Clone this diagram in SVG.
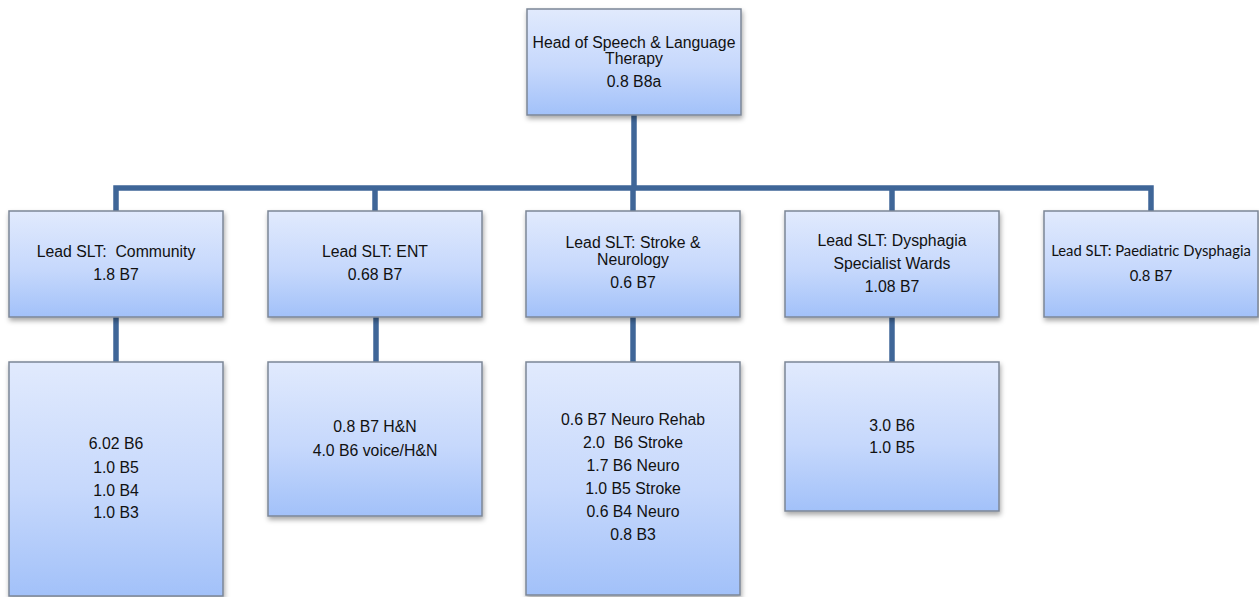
<svg xmlns="http://www.w3.org/2000/svg" width="1259" height="597" viewBox="0 0 1259 597">
  <defs>
    <linearGradient id="boxFill" x1="0" y1="0" x2="0" y2="1">
      <stop offset="0" stop-color="#e1eafd"/>
      <stop offset="0.55" stop-color="#c6d8fc"/>
      <stop offset="1" stop-color="#a2c1f9"/>
    </linearGradient>
    <filter id="shadow" x="-10%" y="-10%" width="120%" height="130%">
      <feDropShadow dx="1" dy="3" stdDeviation="2.5" flood-color="#000" flood-opacity="0.35"/>
    </filter>
  </defs>
  <style>
    .box { fill: url(#boxFill); stroke: #7c8696; stroke-width: 1.5; filter: url(#shadow); }
    .t { font-family: "Liberation Sans", Arial, sans-serif; font-size: 15.8px; fill: #111; text-anchor: middle; }
    .c { font-family: Lato, "Noto Sans", sans-serif; font-size: 14.8px; fill: #111; text-anchor: middle; }
    .conn { fill: none; stroke: #3f6698; stroke-width: 5.5; }
  </style>
  <rect width="1259" height="597" fill="#ffffff"/>

  <g id="connectors">
    <path class="conn" d="M634 115 V188"/>
    <path class="conn" d="M116 211 V188 H1151 V211"/>
    <path class="conn" d="M375 188 V211"/>
    <path class="conn" d="M633 188 V211"/>
    <path class="conn" d="M892 188 V211"/>
    <path class="conn" d="M116 317 V362"/>
    <path class="conn" d="M376 317 V362"/>
    <path class="conn" d="M633 317 V362"/>
    <path class="conn" d="M892 317 V362"/>
  </g>

  <g id="head">
    <rect class="box" x="527" y="9" width="214" height="106"/>
    <text class="t" x="634" y="48">Head of Speech &amp; Language</text>
    <text class="t" x="634" y="64">Therapy</text>
    <text class="t" x="634" y="87">0.8 B8a</text>
  </g>

  <g id="lead-community">
    <rect class="box" x="9" y="211" width="214" height="106"/>
    <text class="t" x="116" y="257" xml:space="preserve">Lead SLT:  Community</text>
    <text class="t" x="116" y="280">1.8 B7</text>
  </g>

  <g id="lead-ent">
    <rect class="box" x="268" y="211" width="214" height="106"/>
    <text class="t" x="375" y="257">Lead SLT: ENT</text>
    <text class="t" x="375" y="280">0.68 B7</text>
  </g>

  <g id="lead-stroke">
    <rect class="box" x="526" y="211" width="214" height="106"/>
    <text class="t" x="633" y="248">Lead SLT: Stroke &amp;</text>
    <text class="t" x="633" y="265">Neurology</text>
    <text class="t" x="633" y="288">0.6 B7</text>
  </g>

  <g id="lead-dysphagia">
    <rect class="box" x="785" y="211" width="214" height="106"/>
    <text class="t" x="892" y="246">Lead SLT: Dysphagia</text>
    <text class="t" x="892" y="269">Specialist Wards</text>
    <text class="t" x="892" y="292">1.08 B7</text>
  </g>

  <g id="lead-paediatric">
    <rect class="box" x="1044" y="211" width="214" height="106"/>
    <text class="c" x="1151" y="256">Lead SLT: Paediatric Dysphagia</text>
    <text class="c" x="1151" y="281">0.8 B7</text>
  </g>

  <g id="team-community">
    <rect class="box" x="9" y="362" width="214" height="234"/>
    <text class="t" x="116" y="449">6.02 B6</text>
    <text class="t" x="116" y="473">1.0 B5</text>
    <text class="t" x="116" y="496">1.0 B4</text>
    <text class="t" x="116" y="518">1.0 B3</text>
  </g>

  <g id="team-ent">
    <rect class="box" x="268" y="362" width="214" height="154"/>
    <text class="t" x="375" y="432">0.8 B7 H&amp;N</text>
    <text class="t" x="375" y="456">4.0 B6 voice/H&amp;N</text>
  </g>

  <g id="team-stroke">
    <rect class="box" x="526" y="362" width="214" height="233"/>
    <text class="t" x="633" y="425">0.6 B7 Neuro Rehab</text>
    <text class="t" x="633" y="448" xml:space="preserve">2.0  B6 Stroke</text>
    <text class="t" x="633" y="471">1.7 B6 Neuro</text>
    <text class="t" x="633" y="494">1.0 B5 Stroke</text>
    <text class="t" x="633" y="517">0.6 B4 Neuro</text>
    <text class="t" x="633" y="540">0.8 B3</text>
  </g>

  <g id="team-dysphagia">
    <rect class="box" x="785" y="362" width="214" height="149"/>
    <text class="t" x="892" y="431">3.0 B6</text>
    <text class="t" x="892" y="453">1.0 B5</text>
  </g>
</svg>
